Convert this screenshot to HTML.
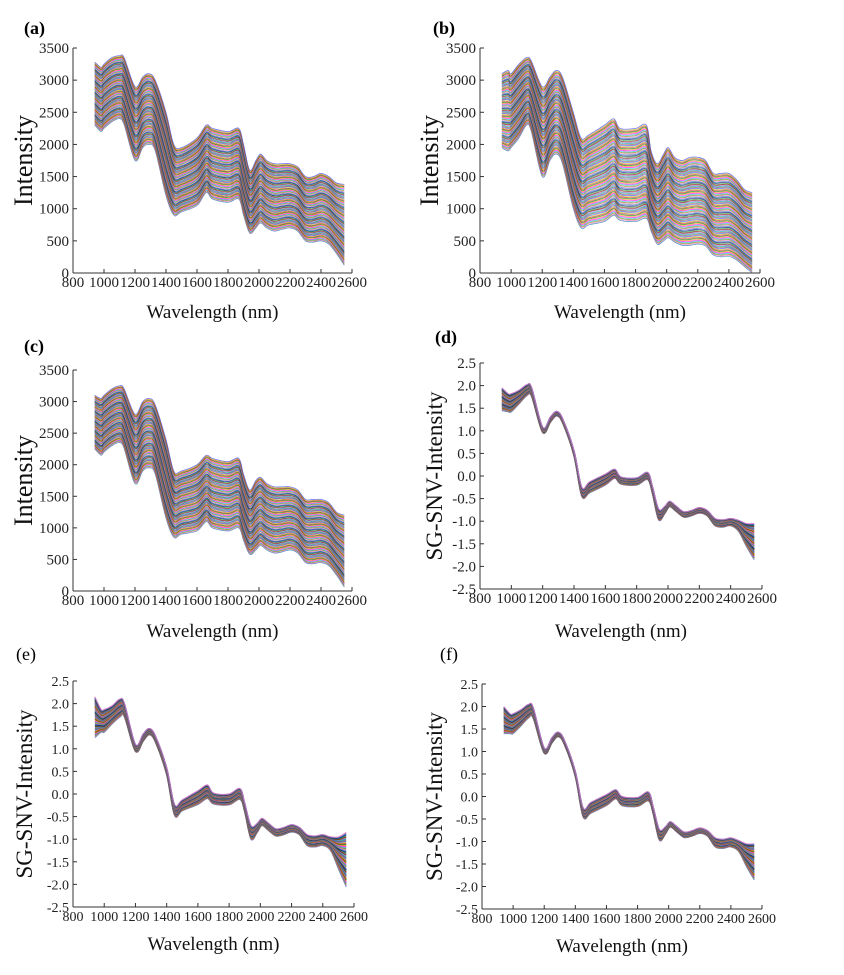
<!DOCTYPE html>
<html><head><meta charset="utf-8">
<style>
html,body{margin:0;padding:0;background:#fff;}
svg{display:block;font-family:"Liberation Serif",serif;}
</style></head>
<body>
<svg id="fig" width="844" height="975" viewBox="0 0 844 975"></svg>
<script>
// ---- data ----
const wavelengths = [940,980,1000,1050,1100,1130,1200,1250,1290,1330,1400,1450,1500,1600,1660,1700,1800,1870,1900,1940,1980,2010,2050,2100,2150,2200,2250,2300,2350,2400,2450,2500,2550];
const rawUpperA = [3280,3200,3250,3350,3380,3350,2900,3050,3100,3000,2500,2000,1950,2100,2300,2250,2200,2250,2000,1600,1750,1850,1750,1700,1700,1700,1650,1500,1500,1550,1500,1400,1380];
const rawLowerA = [2300,2200,2250,2350,2400,2300,1750,1950,2000,1900,1200,900,950,1050,1250,1150,1100,1150,900,620,700,780,700,650,680,700,650,500,480,500,450,300,120];
const rawUpperB = [3100,3150,3100,3250,3350,3300,2900,3050,3150,3050,2500,2100,2150,2300,2400,2250,2250,2300,1900,1700,1850,1950,1800,1750,1800,1800,1750,1550,1550,1550,1450,1300,1250];
const rawLowerB = [1950,1900,1950,2100,2300,2200,1500,1750,1850,1700,1000,700,750,800,900,820,800,850,650,450,500,550,480,430,430,450,420,280,250,260,200,100,0];
const rawUpperC = [3100,3050,3100,3200,3250,3200,2800,3000,3050,2950,2400,1900,1900,2000,2150,2100,2050,2100,1850,1600,1750,1800,1700,1650,1650,1650,1600,1450,1450,1450,1400,1250,1200];
const rawLowerC = [2250,2150,2200,2300,2350,2250,1700,1900,1950,1850,1150,850,900,950,1100,1000,950,1000,800,580,650,720,650,600,620,650,600,450,430,450,400,250,60];
const snvMean = [1.70,1.62,1.62,1.75,1.90,1.85,1.02,1.25,1.38,1.20,0.50,-0.35,-0.25,-0.08,0.05,-0.10,-0.12,0.00,-0.30,-0.85,-0.75,-0.62,-0.72,-0.85,-0.82,-0.76,-0.82,-1.02,-1.05,-1.02,-1.10,-1.30,-1.45];
const snvHalfD = [0.25,0.20,0.20,0.15,0.12,0.10,0.06,0.06,0.05,0.05,0.06,0.10,0.12,0.12,0.10,0.08,0.08,0.08,0.08,0.12,0.08,0.06,0.06,0.06,0.06,0.06,0.06,0.08,0.08,0.08,0.12,0.25,0.40];
const snvHalfE = [0.45,0.25,0.25,0.20,0.20,0.15,0.08,0.08,0.07,0.07,0.08,0.12,0.12,0.15,0.15,0.12,0.12,0.12,0.10,0.15,0.10,0.08,0.08,0.08,0.08,0.08,0.08,0.12,0.12,0.12,0.15,0.35,0.60];
const snvHalfF = [0.30,0.22,0.22,0.18,0.15,0.12,0.06,0.06,0.05,0.05,0.06,0.10,0.12,0.12,0.10,0.10,0.10,0.10,0.08,0.12,0.08,0.06,0.06,0.06,0.06,0.06,0.06,0.10,0.10,0.10,0.12,0.25,0.40];
const xTicks = [800,1000,1200,1400,1600,1800,2000,2200,2400,2600];
const yTicksRaw = [0,500,1000,1500,2000,2500,3000,3500];
const yTicksSnv = [-2.5,-2.0,-1.5,-1.0,-0.5,0.0,0.5,1.0,1.5,2.0,2.5];
const palette = ["#1f77b4","#d62728","#2ca02c","#ff7f0e","#9467bd","#17becf","#8c564b","#e377c2","#bcbd22","#000080","#008000","#800000","#ff00ff","#00a0a0","#808000","#4040ff"];

const NS = "http://www.w3.org/2000/svg";
const svg = document.getElementById('fig');
function mk(tag, attrs, parent){const e=document.createElementNS(NS,tag);for(const k in attrs)e.setAttribute(k,attrs[k]);(parent||svg).appendChild(e);return e;}
function smooth(pts){
  let d='M'+pts[0][0].toFixed(1)+','+pts[0][1].toFixed(1);
  for(let i=0;i<pts.length-1;i++){
    const p0=pts[i-1]||pts[i],p1=pts[i],p2=pts[i+1],p3=pts[i+2]||p2;
    const c1=[p1[0]+(p2[0]-p0[0])/6,p1[1]+(p2[1]-p0[1])/6];
    const c2=[p2[0]-(p3[0]-p1[0])/6,p2[1]-(p3[1]-p1[1])/6];
    d+='C'+c1[0].toFixed(1)+','+c1[1].toFixed(1)+' '+c2[0].toFixed(1)+','+c2[1].toFixed(1)+' '+p2[0].toFixed(1)+','+p2[1].toFixed(1);
  }
  return d;
}

function panel(cfg){
  const g = mk('g',{});
  
  
  const xs = v => cfg.x0 + (v-800)/(1800)*(cfg.x1-cfg.x0);
  const ys = v => cfg.yb - (v-cfg.ymin)/(cfg.ymax-cfg.ymin)*(cfg.yb-cfg.yt);
  const curves = mk('g',{},g);
  
  
  const N = cfg.snv ? 50 : 90;
  for(let i=0;i<N;i++){
    const t = i/(N-1);
    const pts = wavelengths.map((w,k)=>[xs(w), ys(cfg.lo[k] + (cfg.hi[k]-cfg.lo[k])*t)]);
    const p = mk('path',{d:smooth(pts),fill:'none',stroke:palette[(i*7)%palette.length],'stroke-width':cfg.snv?1.2:0.7,'stroke-opacity':0.8},curves);
    
    
  }
  const ax = mk('line',{x1:cfg.x0,y1:cfg.yb,x2:cfg.x1,y2:cfg.yb,stroke:'#333','stroke-width':1},g);
  
  
  const ay = mk('line',{x1:cfg.x0,y1:cfg.yt,x2:cfg.x0,y2:cfg.yb,stroke:'#333','stroke-width':1},g);
  
  
  xTicks.forEach(v=>{
    mk('line',{x1:xs(v),y1:cfg.yb,x2:xs(v),y2:cfg.yb-4,stroke:'#333'},g);
    const tx = mk('text',{x:xs(v),y:cfg.yb+14,'text-anchor':'middle','font-size':cfg.tfs||15,fill:'#222','textLength':cfg.snv&&cfg.tfs?0:null},g);
    tx.removeAttribute('textLength');
    tx.textContent=v;
    
    
  });
  cfg.yticks.forEach(v=>{
    mk('line',{x1:cfg.x0,y1:ys(v),x2:cfg.x0+4,y2:ys(v),stroke:'#333'},g);
    const tx = mk('text',{x:cfg.x0-4,y:ys(v)+5,'text-anchor':'end','font-size':cfg.tfs||15,fill:'#222'},g);
    tx.textContent = cfg.snv ? v.toFixed(1) : v;
    
    
  });
  const xt = mk('text',{x:(cfg.x0+cfg.x1)/2,y:cfg.xty,'text-anchor':'middle','font-size':19,fill:'#111'},g);
  xt.textContent='Wavelength (nm)';
  
  
  const yt = mk('text',{x:0,y:0,'text-anchor':'middle','font-size':cfg.snv?23:26,fill:'#111',transform:`translate(${cfg.ytx},${(cfg.yt+cfg.yb)/2}) rotate(-90)`},g);
  yt.textContent = cfg.snv ? 'SG-SNV-Intensity' : 'Intensity';
  
  
  const lb = mk('text',{x:cfg.lx,y:cfg.ly,'font-size':18,'font-weight':cfg.bold===false?'normal':'bold',fill:'#000'},g);
  lb.textContent='('+cfg.id+')';
  
  
}
function snvBounds(h){return [snvMean.map((m,k)=>m-h[k]), snvMean.map((m,k)=>m+h[k])];}
const [dLo,dHi]=snvBounds(snvHalfD), [eLo,eHi]=snvBounds(snvHalfE), [fLo,fHi]=snvBounds(snvHalfF);

panel({id:'a',x0:73,x1:352,yt:48,yb:273,ymin:0,ymax:3500,yticks:yTicksRaw,lo:rawLowerA,hi:rawUpperA,xty:318,ytx:32,lx:24,ly:34});
panel({id:'b',x0:480,x1:760,yt:48,yb:273,ymin:0,ymax:3500,yticks:yTicksRaw,lo:rawLowerB,hi:rawUpperB,xty:318,ytx:438,lx:433,ly:34});
panel({id:'c',x0:73,x1:352,yt:370,yb:591,ymin:0,ymax:3500,yticks:yTicksRaw,lo:rawLowerC,hi:rawUpperC,xty:637,ytx:32,lx:24,ly:352});
panel({id:'d',x0:480,x1:762,yt:363,yb:589,ymin:-2.5,ymax:2.5,yticks:yTicksSnv,snv:true,lo:dLo,hi:dHi,xty:637,ytx:442,lx:435,ly:343});
panel({id:'e',x0:73,x1:354,yt:681,yb:907,ymin:-2.5,ymax:2.5,yticks:yTicksSnv,snv:true,lo:eLo,hi:eHi,xty:950,ytx:32,lx:16,ly:660,tfs:14,bold:false});
panel({id:'f',x0:482,x1:762,yt:684,yb:909,ymin:-2.5,ymax:2.5,yticks:yTicksSnv,snv:true,lo:fLo,hi:fHi,xty:952,ytx:442,lx:440,ly:660,tfs:14,bold:false});
</script>
</body></html>
